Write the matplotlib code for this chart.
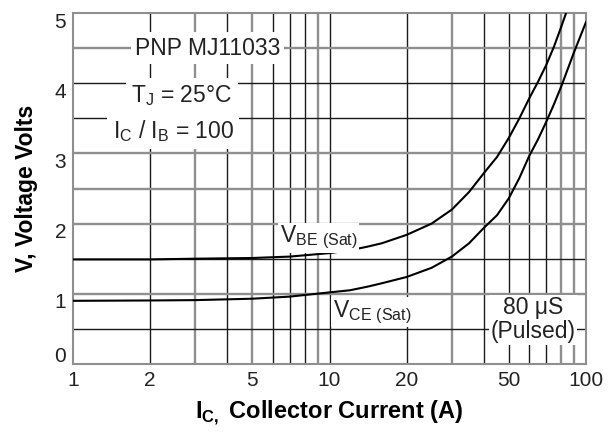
import matplotlib
matplotlib.use("Agg")
import matplotlib.pyplot as plt
from matplotlib.transforms import ScaledTranslation

# ---- data ----
ic_vbe = [1, 2, 3, 5, 7, 10, 12, 14, 16, 20, 25, 30, 35, 40, 45, 50, 55, 60, 65, 70, 75, 80, 84]
vbe = [1.49, 1.49, 1.50, 1.51, 1.53, 1.58, 1.62, 1.67, 1.72, 1.84, 2.00, 2.20, 2.45, 2.72, 2.95, 3.22, 3.50, 3.78, 4.02, 4.26, 4.52, 4.80, 5.02]
ic_vce = [1, 2, 3, 5, 7, 10, 12, 14, 16, 20, 25, 30, 35, 40, 45, 50, 55, 60, 65, 70, 75, 80, 90, 100]
vce = [0.90, 0.905, 0.91, 0.93, 0.96, 1.02, 1.05, 1.10, 1.15, 1.24, 1.37, 1.53, 1.72, 1.94, 2.12, 2.36, 2.65, 2.96, 3.20, 3.45, 3.70, 3.95, 4.45, 4.87]

xticks = [1, 2, 5, 10, 20, 50, 100]
xticklabels = ["1", "2", "5", "10", "20", "50", "100"]
yticks = [0, 1, 2, 3, 4, 5]
xgrid = [2, 3, 4, 5, 6, 7, 8, 9, 10, 20, 30, 40, 50, 60, 70, 80, 90]
xgrid_dark = [1, 0, 1, 0, 1, 1, 1, 0, 1, 1, 0, 1, 1, 1, 1, 0, 0]
ygrid = [0.5, 1.0, 1.5, 2.0, 2.5, 3.0, 3.5, 4.0, 4.5]
ygrid_dark = [1, 0, 1, 0, 0, 0, 1, 1, 0]

plt.rcParams['font.family'] = ['Liberation Sans', 'DejaVu Sans']

fig = plt.figure(figsize=(6.16, 4.34), dpi=100)
ax = fig.add_axes([73/616, 1-364/434, (586-73)/616, (364-13)/434])
ax.set_xscale('log')
ax.set_xlim(1, 100)
ax.set_ylim(0, 5)

dark = dict(color='#1a1a1a', lw=1.0, zorder=1)
gray = dict(color='#8f8f8f', lw=1.7, zorder=1)
for xv, d in zip(xgrid, xgrid_dark):
    ax.axvline(xv, **(dark if d else gray))
for yv, d in zip(ygrid, ygrid_dark):
    ax.axhline(yv, **(dark if d else gray))

ax.plot(ic_vbe, vbe, color='black', lw=1.5, zorder=3)
ax.plot(ic_vce, vce, color='black', lw=1.5, zorder=3)

for s in ax.spines.values():
    s.set_color('#8f8f8f')
    s.set_linewidth(1.5)

ax.set_xticks(xticks)
ax.set_xticklabels(xticklabels)
ax.xaxis.set_minor_locator(matplotlib.ticker.NullLocator())
ax.set_yticks(yticks)
ax.tick_params(length=0, labelsize=15, colors='#222222', pad=5)
for v, lab in zip(yticks, ax.get_yticklabels()):
    dy = 9 if v == 0 else -7
    lab.set_transform(lab.get_transform() + ScaledTranslation(0, dy/100, fig.dpi_scale_trans))

ax.set_xlabel(r'I$_\mathregular{C,}$ Collector Current (A)', fontsize=17, fontweight='bold', labelpad=6)
ax.set_ylabel('V, Voltage Volts', fontsize=16.5, fontweight='bold', labelpad=12)

tkw = dict(fontsize=16.5, color='#222222', zorder=4)
ax.text(3.35, 4.5, 'PNP MJ11033', ha='center', va='center',
        bbox=dict(facecolor='white', edgecolor='none', pad=3), **tkw)
ax.text(2.66, 3.82, 'T$_\\mathregular{J}$ = 25°C', ha='center', va='center',
        bbox=dict(facecolor='white', edgecolor='none', pad=4), **tkw)
ax.text(2.46, 3.32, 'I$_\\mathregular{C}$ / I$_\\mathregular{B}$ = 100', ha='center', va='center',
        bbox=dict(facecolor='white', edgecolor='none', pad=4), **tkw)
box = dict(facecolor='white', edgecolor='none', pad=1)
ax.text(6.4, 1.80, 'V$_\\mathregular{BE\\ (Sat)}$', ha='left', va='center', bbox=box, **tkw)
ax.text(10.3, 0.74, 'V$_\\mathregular{CE\\ (Sat)}$', ha='left', va='center', bbox=box, **tkw)
ax.text(62, 0.63, '80 μS\n(Pulsed)', ha='center', va='center', linespacing=1.05, bbox=box, **tkw)

fig.savefig('out.png', dpi=100)
